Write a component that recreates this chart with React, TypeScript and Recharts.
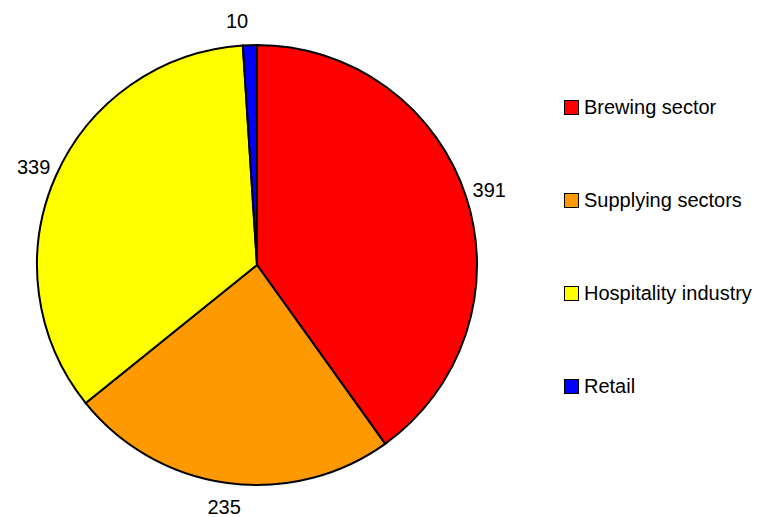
import React from "react"
import { PieChart, Pie, Cell, Legend } from "recharts"

const sectors = ["Brewing sector", "Supplying sectors", "Hospitality industry", "Retail"]
const values = [391, 235, 339, 10]
const colors = ["#ff0000", "#ff9900", "#ffff00", "#0000ff"]

const data = sectors.map((name, i) => ({ name, value: values[i] }))

const RADIAN = Math.PI / 180

// value labels sit just outside the rim, like the original spreadsheet chart
// eslint-disable-next-line @typescript-eslint/no-explicit-any
const renderLabel = (props: any) => {
  const { cx, cy, midAngle, outerRadius, value } = props
  const r = outerRadius + 24
  const x = cx + r * Math.cos(-midAngle * RADIAN)
  const y = cy + r * Math.sin(-midAngle * RADIAN)
  const dx = value === 10 ? -12 : 0
  return (
    <text
      x={x + dx}
      y={y}
      fill="#000"
      fontSize={20}
      fontFamily="Liberation Sans, Arial, sans-serif"
      textAnchor="middle"
      dominantBaseline="central"
    >
      {value}
    </text>
  )
}

const LegendBox = () => (
  <div style={{ fontFamily: "Liberation Sans, Arial, sans-serif", fontSize: 20, color: "#000" }}>
    {sectors.map((name, i) => (
      <div key={name} style={{ display: "flex", alignItems: "center", height: 93, whiteSpace: "nowrap" }}>
        <span
          style={{
            display: "inline-block",
            width: 13,
            height: 13,
            background: colors[i],
            border: "1.5px solid #000",
            marginRight: 5,
          }}
        />
        <span>{name}</span>
      </div>
    ))}
  </div>
)

export default function App() {
  return (
    <div style={{ position: "absolute", left: 0, top: 0, width: 765, height: 517, background: "#fff" }}>
      <PieChart width={765} height={517}>
        <Pie
          data={data}
          dataKey="value"
          nameKey="name"
          cx={252}
          cy={260}
          outerRadius={220}
          startAngle={90}
          endAngle={-270}
          stroke="#000"
          strokeWidth={2}
          label={renderLabel}
          labelLine={false}
          isAnimationActive={false}
        >
          {data.map((d, i) => (
            <Cell key={d.name} fill={colors[i]} />
          ))}
        </Pie>
        <Legend
          layout="vertical"
          content={<LegendBox />}
          wrapperStyle={{ position: "absolute", left: 564, top: 61, width: 200 }}
        />
      </PieChart>
    </div>
  )
}
